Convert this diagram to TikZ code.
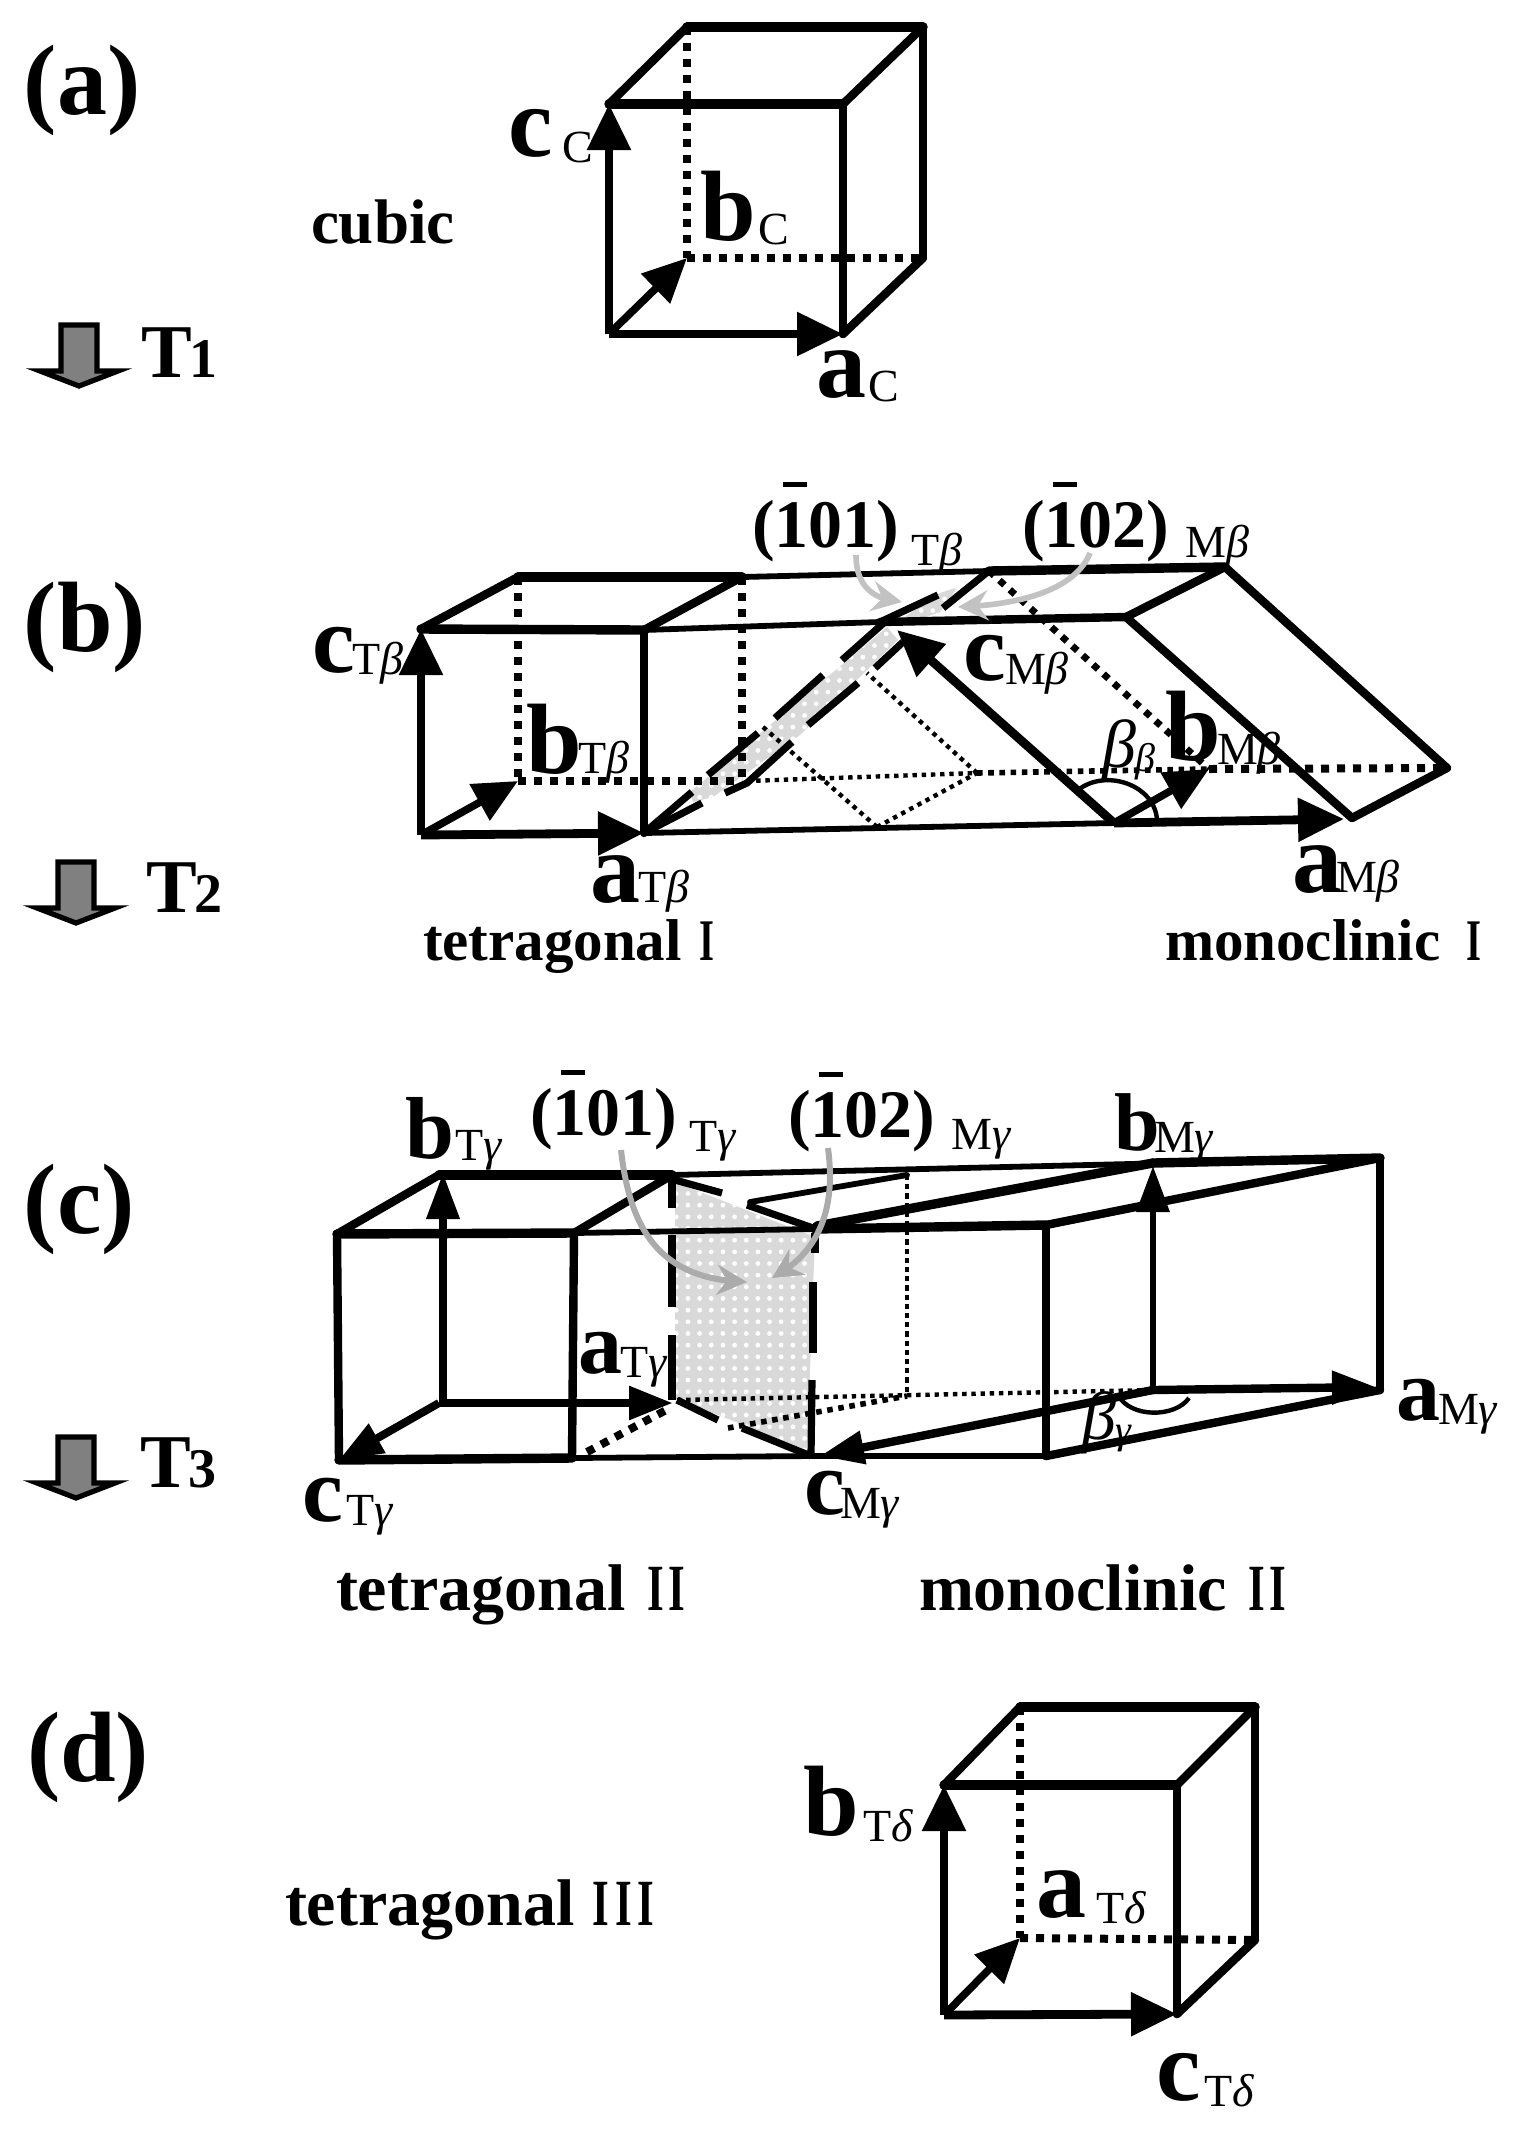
\documentclass[tikz,border=0pt]{standalone}
\usepackage{fontspec}
\usepackage{graphicx}
\setmainfont{Liberation Serif}
\usetikzlibrary{arrows.meta,patterns.meta,bending}
\definecolor{planeg}{gray}{0.85}
\definecolor{arrowgA}{gray}{0.76}
\definecolor{arrowgB}{gray}{0.67}
\newcommand\fsz[1]{\fontsize{#1}{#1}\selectfont}
\newcommand\sbf{\fsz{23}\mdseries}
\newcommand\lbl[5][50]{{\fsz{#1}\bfseries\rlap{#2}}\hspace{#3pt}\raisebox{-#4pt}{\sbf #5}}
\newcommand\xbt{T\textit{β}}\newcommand\xbm{M\textit{β}}
\newcommand\xgt{T\textit{γ}}\newcommand\xgm{M\textit{γ}}
\newcommand\xdt{T\textit{δ}}
\newcommand\barone{\rlap{\hspace{4pt}\raisebox{30pt}{\rule{12pt}{2.5pt}}}1}
\newcommand\planelab[1]{{\fsz{34}\bfseries(\barone #1)}}
\newcommand\rn{\scalebox{0.65}[1]{I}}
\tikzset{
 x=0.5pt,y=-0.5pt,
 thinl/.style={line width=2.9pt,line cap=round},
 medl/.style={line width=4.2pt,line cap=round},
 thkl/.style={line width=4.7pt,line cap=round},
 dashv/.style={line width=4pt,dash pattern=on 4pt off 4pt},
 dashm/.style={line width=2.8pt,dash pattern=on 2.8pt off 2.8pt},
 dott/.style={line width=2.2pt,dash pattern=on 2.2pt off 2.4pt},
 dasht/.style={line width=1.8pt,dash pattern=on 2.6pt off 2pt},
 segl/.style={line width=3.6pt},
 bigarr/.style={line width=4.4pt,-{Triangle[length=23pt,width=21pt]}},
 midarr/.style={line width=4pt,-{Triangle[length=22pt,width=16pt]}},
 slimarr/.style={line width=3.6pt,-{Triangle[length=23pt,width=16pt]}},
 slantarr/.style={line width=3.8pt,-{Triangle[length=22pt,width=20pt]}},
 garrA/.style={line width=2.8pt,color=arrowgA,-{Stealth[length=15pt,width=15pt,inset=5pt]}},
 garrB/.style={line width=3pt,color=arrowgB,-{Stealth[length=15pt,width=15pt,inset=5pt]}},
 lab/.style={anchor=base west,inner sep=0pt,outer sep=0pt},
 panel/.style={lab,font=\fsz{50}\bfseries},
 temp/.style={lab,font=\fsz{38}\bfseries},
 captxt/.style={lab,font=\fsz{33}\bfseries},
 capsm/.style={lab,font=\fsz{29.5}\bfseries},
 gplane/.style={fill=planeg},
 gdots/.style={pattern={Dots[distance=5.83pt,radius=1.2pt]},pattern color=white},
 tarrow/.style={fill=black!50,draw=black,line width=2.6pt,miter limit=10},
}
\newcommand\coolarrow[2]{%
 \draw[tarrow,shift={(#1,#2)}] (61,325)--(97,325)--(97,371)--(118,371)--(79,386)--(40,371)--(61,371)--cycle;}
\begin{document}
\begin{tikzpicture}
\useasboundingbox (0,0) rectangle (1519,2138);
\fill[white] (0,0) rectangle (1519,2138);

% ---------- panel labels, temperatures ----------
\node[panel] (pa) at (24,114) {(a)};
\node[panel] (pb) at (24,651) {(b)};
\node[panel] (pc) at (24,1233) {(c)};
\node[panel] (pd) at (27,1781) {(d)};
\coolarrow{0}{0}\coolarrow{-3}{537}\coolarrow{-3}{1112}
\node[temp] (t1) at (141,377) {T\hspace{-1pt}{\fsz{28}1}};
\node[temp] (t2) at (146,912) {T\hspace{-1pt}{\fsz{28}2}};
\node[temp] (t3) at (140,1487) {T\hspace{-1pt}{\fsz{28}3}};

% ---------- (a) cubic ----------
\coordinate (a1) at (609,334);\coordinate (a2) at (843,334);
\coordinate (a3) at (843,104);\coordinate (a4) at (609,104);
\coordinate (a5) at (687,258);\coordinate (a6) at (923,258);
\coordinate (a7) at (923,27);\coordinate (a8) at (687,27);
\draw[dashv] (a8)--(a5);\draw[dashv] (a5)--(a6);
\draw[thkl] (a4)--(a3);\draw[thkl] (a8)--(a7);
\draw[medl] (a4)--(a8);\draw[medl] (a3)--(a7);
\draw[medl] (a3)--(a2);\draw[medl] (a7)--(a6);\draw[medl] (a2)--(a6);
\draw[bigarr] (a1)--(a4);
\draw[bigarr] (a1)--(a2);
\draw[slantarr] (a1)--(a5);
\node[lab] (ca) at (508,156) {\lbl{c}{27}{3}{C}};
\node[lab] (ba) at (700,240) {\lbl{b}{29}{2}{C}};
\node[lab] (aa) at (816,397) {\lbl{a}{26}{2}{C}};
\node[captxt,font=\fsz{31.5}\bfseries] (cub) at (311,243) {cubic};

% ---------- (b) ----------
\coordinate (bA) at (421,835);\coordinate (bB) at (644,833);
\coordinate (bC) at (421,629);\coordinate (bD) at (644,630);
\coordinate (bE) at (518,577);\coordinate (bF) at (742,577);
\coordinate (bG) at (518,781);\coordinate (bH) at (742,781);
\coordinate (bP) at (880,622);\coordinate (bQ) at (1126,617);
\coordinate (bR) at (989,571);\coordinate (bS) at (1225,567);
\coordinate (bU) at (1447,768);\coordinate (bV) at (1352,818);
\coordinate (bW) at (1114,823);\coordinate (bM) at (1209,769);
\coordinate (bX) at (977,773);\coordinate (bY) at (877,827);
\fill[gplane] (690,792)--(887,627)--(898,640)--(800,735)--(713,797)--(693,802)--cycle;
\fill[gplane] (903,618)--(940,593)--(958,587)--(940,612)--(923,618)--cycle;
\fill[gdots] (690,792)--(887,627)--(898,640)--(800,735)--(713,797)--(693,802)--cycle;
\fill[gdots] (903,618)--(940,593)--(958,587)--(940,612)--(923,618)--cycle;
\draw[dashv] (bE)--(bG);\draw[dashv] (bF)--(bH);\draw[dashv] (bG)--(bH);
\draw[dott] (747,781)--(bX);
\draw[dashm] (bX)--(bM);
\draw[dashv] (bM)--(bU);
\draw[dott] (bX)--(867,673);
\draw[dott] (763,727)--(bY);
\draw[dott] (bY)--(bX);
\draw[line width=3.4pt,dash pattern=on 3.4pt off 3.6pt] (bR)--(bM);
\draw[thkl] (bC)--(bD);\draw[thkl] (bE)--(bF);
\draw[medl] (bC)--(bE);\draw[medl] (bD)--(bF);
\draw[medl] (bD)--(bB);
\draw[thinl] (bD)--(bP);\draw[medl] (bP)--(bQ);
\draw[thinl] (bF)--(bR);\draw[thkl] (bR)--(bS);
\draw[medl] (bQ)--(bS);\draw[medl] (bS)--(bU);
\draw[medl] (bQ)--(bV);\draw[medl] (bV)--(bU);
\draw[thinl] (bB)--(bW);
% dashed plane edges
\draw[segl] (bB)--(692,792);
\draw[segl] (708,775)--(758,733);
\draw[segl] (775,718)--(823,675);
\draw[segl] (842,660)--(887,620);
\draw[segl] (880,622)--(938,595);
\draw[segl] (943,608)--(990,570);
\draw[segl] (bB)--(702,803);
\draw[segl] (725,793)--(747,783)--(792,742);
\draw[segl] (808,725)--(858,683);
\draw[segl] (875,668)--(903,642);
\draw[bigarr] (bA)--(bB);
\draw[bigarr] (bA)--(bC);
\draw[slantarr] (bA)--(bG);
\draw[bigarr] (bW)--(1344,819);
\draw[bigarr] (bW)--(897,630);
\draw[slantarr] (bW)--(bM);
\draw[line width=2.2pt] (1078,790) .. controls (1106,768) and (1155,785) .. (1157,820);
\draw[garrA] (856,555) .. controls (856,585) and (872,600) .. (902,602);
\draw[garrA] (1090,553) .. controls (1075,590) and (1020,605) .. (958,607);
\node[lab] (cTb) at (312,672) {\lbl[48]{c}{20}{1}{\xbt}};
\node[lab] (bTb) at (526,773) {\lbl{b}{26}{0}{\xbt}};
\node[lab] (aTb) at (590,902) {\lbl{a}{24}{0}{\xbt}};
\node[lab] (cMb) at (963,680) {\lbl[48]{c}{21}{2}{\xbm}};
\node[lab] (bMb) at (1165,760) {\lbl{b}{26}{2}{\xbm}};
\node[lab] (aMb) at (1292,892) {\lbl{a}{22}{0}{\xbm}};
\node[lab] (beb) at (1102,767) {\fsz{34}\textit{β}\raisebox{-2pt}{\fsz{20}\textit{β}}};
\node[lab] (hkl1) at (752,547) {\planelab{01}\hspace{6pt}\raisebox{-9pt}{\sbf\xbt}};
\node[lab] (hkl2) at (1022,547) {\planelab{02}\hspace{8pt}\raisebox{-5pt}{\sbf\xbm}};
\node[capsm] (tet1) at (423,960) {tetragonal\hspace{9pt}\rn};
\node[capsm] (mon1) at (1165,960) {monoclinic\hspace{13pt}\rn};

% ---------- (c) ----------
\coordinate (cA) at (339,1460);\coordinate (cB) at (572,1458);
\coordinate (cC) at (337,1234);\coordinate (cD) at (574,1233);
\coordinate (cE) at (439,1175);\coordinate (cF) at (672,1175);
\coordinate (cG) at (443,1403);\coordinate (cH) at (673,1403);
\coordinate (cP) at (815,1229);\coordinate (cQ) at (1046,1225);
\coordinate (cR) at (1380,1158);\coordinate (cS) at (1380,1390);
\coordinate (cT) at (1046,1456);\coordinate (cU) at (1153,1390);
\coordinate (cV) at (1153,1163);\coordinate (cW) at (811,1456);
\coordinate (cX) at (907,1175);\coordinate (cY) at (907,1396);
\coordinate (cK) at (750,1202);
\fill[gplane] (675,1182)--(815,1237)--(807,1450)--(675,1398)--cycle;
\fill[gdots] (675,1182)--(815,1237)--(807,1450)--(675,1398)--cycle;
\draw[dasht] (cX)--(cY);
\draw[dashv] (587,1452)--(670,1408);
\draw[dashm] (728,1428)--(cY);
\draw[dott] (677,1400)--(cU);
\draw[thkl] (cC)--(cD);\draw[thkl] (cE)--(cF);
\draw[medl] (cC)--(cE);\draw[medl] (cD)--(cF);
\draw[thinl] (cF)--(cR);
\draw[thkl] (cV)--(cR);
\draw[medl] (cC)--(cA);\draw[medl] (cD)--(cB);
\draw[thkl] (cA)--(cB);
\draw[thinl] (cB)--(cW);\draw[thinl] (cW)--(cT);
\draw[thinl] (cD)--(cP);\draw[thkl] (cP)--(cQ);
\draw[thinl] (cK)--(cX);
\draw[thkl] (817,1226)--(cV);
\draw[medl] (cQ)--(cR);\draw[medl] (cQ)--(cT);\draw[medl] (cT)--(cS);\draw[medl] (cR)--(cS);
\draw[segl] (675,1180)--(722,1193);
\draw[segl] (747,1205)--(813,1228);
\draw[segl] (677,1400)--(718,1420);
\draw[segl] (742,1428)--(cW);
\draw[segl] (cF)--(672,1208);
\draw[segl] (672,1235)--(672,1307);
\draw[segl] (672,1335)--(672,1400);
\draw[segl] (815,1233)--(815,1253);
\draw[segl] (813,1282)--(813,1353);
\draw[segl] (812,1380)--(cW);
\draw[midarr,line width=4.4pt] (439,1403)--(cH);
\draw[midarr] (439,1403)--(cA);
\draw[slimarr] (443,1405)--(443,1173);
\draw[midarr,line width=4.2pt] (cU)--(820,1456);
\draw[midarr,line width=4.2pt] (cU)--(1376,1387);
\draw[slimarr,line width=3.2pt] (cU)--(1153,1166);
\draw[line width=2.2pt] (1118,1395) .. controls (1130,1418) and (1175,1418) .. (1189,1398);
\draw[garrB] (621,1150) .. controls (630,1230) and (660,1280) .. (747,1282);
\draw[garrB] (828,1148) .. controls (835,1200) and (825,1250) .. (772,1278);
\node[lab] (bTg) at (405,1158) {\lbl[44]{b}{25}{1}{\xgt}};
\node[lab] (bMg) at (1114,1150) {\lbl[41]{b}{20}{1}{\xgm}};
\node[lab] (aTg) at (578,1373) {\lbl[44]{a}{21}{2}{\xgt}};
\node[lab] (aMg) at (1396,1420) {\lbl[44]{a}{21}{2}{\xgm}};
\node[lab] (cTg) at (302,1521) {\lbl[46]{c}{22}{2}{\xgt}};
\node[lab] (cMg) at (804,1514) {\lbl[46]{c}{18}{2}{\xgm}};
\node[lab] (beg) at (1082,1439) {\fsz{34}\textit{β}\raisebox{-2pt}{\fsz{20}\textit{γ}}};
\node[lab] (hkl3) at (530,1135) {\planelab{01}\hspace{6pt}\raisebox{-8pt}{\sbf\xgt}};
\node[lab] (hkl4) at (788,1137) {\planelab{02}\hspace{8pt}\raisebox{-6pt}{\sbf\xgm}};
\node[captxt] (tet2) at (336,1610) {tetragonal\hspace{11pt}\rn\hspace{2pt}\rn};
\node[captxt] (mon2) at (919,1610) {monoclinic\hspace{11pt}\rn\hspace{2pt}\rn};

% ---------- (d) ----------
\coordinate (d1) at (944,2015);\coordinate (d2) at (1177,2014);
\coordinate (d3) at (1177,1785);\coordinate (d4) at (944,1785);
\coordinate (d5) at (1020,1938);\coordinate (d6) at (1255,1940);
\coordinate (d7) at (1255,1707);\coordinate (d8) at (1020,1707);
\draw[dashv] (d8)--(d5);\draw[dashv] (d5)--(d6);
\draw[thkl] (d4)--(d3);\draw[thkl] (d8)--(d7);
\draw[medl] (d4)--(d8);\draw[medl] (d3)--(d7);
\draw[medl] (d3)--(d2);\draw[medl] (d7)--(d6);\draw[medl] (d2)--(d6);
\draw[bigarr] (d1)--(d4);
\draw[bigarr] (d1)--(d2);
\draw[slantarr] (d1)--(d5);
\node[lab] (bTd) at (803,1835) {\lbl{b}{30}{3}{\xdt}};
\node[lab] (aTd) at (1036,1917) {\lbl{a}{30}{3}{\xdt}};
\node[lab] (cTd) at (1156,2100) {\lbl{c}{24}{3}{\xdt}};
\node[captxt] (tet3) at (285,1925) {tetragonal\hspace{9pt}\rn\hspace{3pt}\rn\hspace{3pt}\rn};
\end{tikzpicture}
\end{document}
